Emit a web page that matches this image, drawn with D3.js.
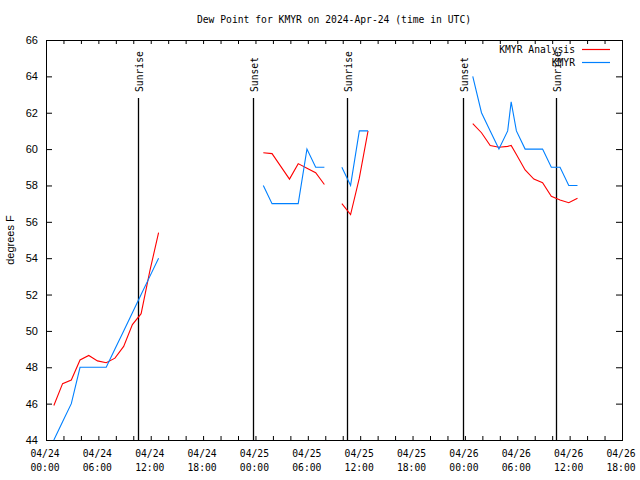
<!DOCTYPE html>
<html>
<head>
<meta charset="utf-8">
<script src="https://cdn.jsdelivr.net/npm/d3@7"></script>
<style>
  html, body { margin: 0; padding: 0; background: #fff; }
  svg { display: block; }
</style>
</head>
<body>
<div id="chart"></div>
<script>
// ---- data (hours since 2024-04-24 00:00 UTC; null = gap) ----
const hours = [0.9,1.9,2.9,3.9,4.9,5.9,6.9,7.9,8.9,9.9,10.9,11.9,12.9, 18,
  24.9,25.9,26.9,27.9,28.9,29.9,30.9,31.9, 32.9,
  33.9,34.9,35.9,36.9, 42,
  48.9,49.9,50.9,51.9,52.9,53.3,53.9,54.9,55.9,56.9,57.9,58.9,59.9,60.9];
const analysis = [45.9,47.1,47.3,48.4,48.65,48.35,48.25,48.5,49.15,50.35,50.95,53.3,55.4, null,
  59.8,59.75,59.05,58.35,59.2,58.95,58.7,58.05, null,
  57.0,56.4,58.4,61.0, null,
  61.4,60.9,60.2,60.1,60.15,60.2,59.7,58.85,58.35,58.15,57.4,57.2,57.05,57.3];
const observed = [44,45,46,48,48,48,48,49,50,51,52,53,54, null,
  58,57,57,57,57,60,59,59, null,
  59,58,61,61, null,
  64,62,61,60,61,62.6,61,60,60,60,59,59,58,58];
const seriesNames = ["KMYR Analysis", "KMYR"];
const sunLabels = ["Sunrise","Sunset","Sunrise","Sunset","Sunrise"];
const sunHours = [10.57, 23.75, 34.52, 47.8, 58.43];
const xTickHours = [0,6,12,18,24,30,36,42,48,54,60,66];
const xTickDates = ["04/24","04/24","04/24","04/24","04/25","04/25","04/25","04/25","04/26","04/26","04/26","04/26"];
const xTickTimes = ["00:00","06:00","12:00","18:00","00:00","06:00","12:00","18:00","00:00","06:00","12:00","18:00"];
const yTicks = [44,46,48,50,52,54,56,58,60,62,64,66];
const titleText = "Dew Point for KMYR on 2024-Apr-24 (time in UTC)";
const yLabel = "degrees F";

// ---- layout ----
const W = 640, H = 480;
const L = 46, R = 622, T = 40, B = 440;
const mono = "'DejaVu Sans Mono', 'Liberation Mono', monospace";
const sans = "'Liberation Sans', Arial, sans-serif";
const colors = ["#ff0000", "#0080ff"];

const svg = d3.select("#chart").append("svg").attr("width", W).attr("height", H);

const x = d3.scaleLinear().domain([0, 66]).range([L, R]);
const y = d3.scaleLinear().domain([44, 66]).range([B, T]);

// title
svg.append("text").attr("x", (L + R) / 2).attr("y", 23)
  .attr("text-anchor", "middle").style("font-family", mono).style("font-size", "9.7px")
  .text(titleText);

// axes ticks (inward)
const minorHours = d3.range(0, 67, 2);
const gB = svg.append("g").attr("transform", `translate(0,${B})`)
  .call(d3.axisBottom(x).tickValues(minorHours).tickSize(-4).tickFormat(""));
const gT = svg.append("g").attr("transform", `translate(0,${T})`)
  .call(d3.axisTop(x).tickValues(minorHours).tickSize(-4).tickFormat(""));
const gL = svg.append("g").attr("transform", `translate(${L},0)`)
  .call(d3.axisLeft(y).tickValues(yTicks).tickSize(-6).tickPadding(8).tickFormat(d3.format("d")));
const gR = svg.append("g").attr("transform", `translate(${R},0)`)
  .call(d3.axisRight(y).tickValues(yTicks).tickSize(-6).tickFormat(""));
[gB, gT, gL, gR].forEach(g => {
  g.select(".domain").remove();
  g.selectAll(".tick line").attr("stroke", "#000");
});
gL.selectAll(".tick text").style("font-family", sans).style("font-size", "11px").attr("fill", "#000");

// x labels (two lines)
const xl = svg.append("g").selectAll("text").data(xTickHours).join("text")
  .attr("x", d => x(d) - 1).attr("y", 457)
  .attr("text-anchor", "middle").style("font-family", mono).style("font-size", "9.7px");
xl.append("tspan").attr("x", d => x(d) - 1).attr("dy", 0).text((d, i) => xTickDates[i]);
xl.append("tspan").attr("x", d => x(d) - 1).attr("dy", 14).text((d, i) => xTickTimes[i]);

// y label
svg.append("text").attr("transform", `translate(14,${(T + B) / 2}) rotate(-90)`)
  .attr("text-anchor", "middle").style("font-family", sans).style("font-size", "11px")
  .text(yLabel);

// border
svg.append("rect").attr("x", L + 0.5).attr("y", T + 0.5).attr("width", R - L).attr("height", B - T)
  .attr("fill", "none").attr("stroke", "#000").attr("stroke-width", 1);

// sunrise / sunset lines
const sun = svg.append("g").selectAll("g").data(sunHours).join("g");
sun.append("line")
  .attr("x1", d => Math.round(x(d)) + 0.5).attr("x2", d => Math.round(x(d)) + 0.5)
  .attr("y1", 98).attr("y2", B)
  .attr("stroke", "#000").attr("stroke-width", 1.3);
sun.append("text")
  .attr("transform", d => `translate(${Math.round(x(d)) + 5},92) rotate(-90)`)
  .attr("text-anchor", "start").style("font-family", mono).style("font-size", "9.7px")
  .text((d, i) => sunLabels[i]);

// series
const makeData = vals => hours.map((h, i) => ({ t: h, v: vals[i] }));
const line = d3.line().defined(d => d.v != null).x(d => x(d.t)).y(d => y(d.v));
[analysis, observed].forEach((vals, k) => {
  svg.append("path").datum(makeData(vals))
    .attr("fill", "none").attr("stroke", colors[k]).attr("stroke-width", 1.1)
    .attr("d", line);
});

// legend
const lg = svg.append("g").selectAll("g").data(seriesNames).join("g")
  .attr("transform", (d, i) => `translate(0,${49 + i * 13})`);
lg.append("text").attr("x", 575).attr("y", 3.5).attr("text-anchor", "end")
  .style("font-family", mono).style("font-size", "9.7px").text(d => d);
lg.append("line").attr("x1", 582).attr("x2", 610).attr("y1", 0.5).attr("y2", 0.5)
  .attr("stroke", (d, i) => colors[i]).attr("stroke-width", 1.2);
</script>
</body>
</html>
